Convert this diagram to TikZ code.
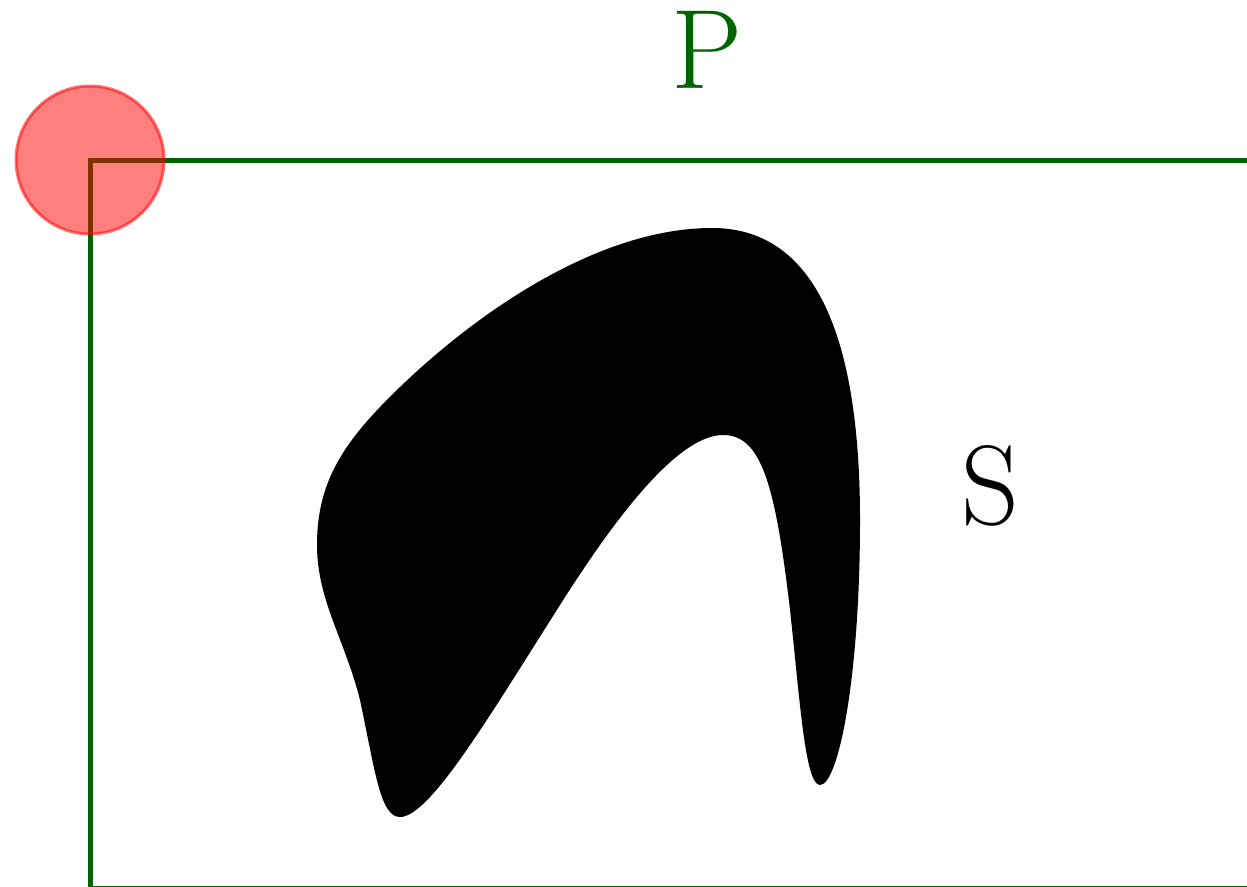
\documentclass[tikz,border=0pt]{standalone}
\usepackage{fontspec}
\definecolor{pgreen}{RGB}{0,100,0}
\tikzset{
  frame/.style={draw=pgreen,line width=5pt},
  marker/.style={draw=red,fill=red,fill opacity=0.5,draw opacity=0.55,line width=3pt},
  blob/.style={fill=black},
  lbl/.style={inner sep=0pt,anchor=base,font=\fontsize{113}{113}\selectfont}
}
\begin{document}
\begin{tikzpicture}[x=1pt,y=-1pt]
\useasboundingbox (0,0) rectangle (1247,886);
\clip (0,0) rectangle (1247,886);
% frame of P
\draw[frame] (1300,160) -- (90,160) -- (90,888.5) -- (1300,888.5);
% shape S
\fill[blob] (400,817)
  .. controls (380,817) and (375,770) .. (360,700)
  .. controls (345,640) and (317,600) .. (317,545)
  .. controls (317,480) and (345,440) .. (400,387)
  .. controls (480,310) and (600,228) .. (712,228)
  .. controls (790,228) and (860,290) .. (860,520)
  .. controls (860,680) and (838,785) .. (820,785)
  .. controls (805,785) and (800,700) .. (790,610)
  .. controls (775,480) and (760,435) .. (723,435)
  .. controls (680,435) and (620,510) .. (560,605)
  .. controls (490,715) and (430,817) .. (400,817) -- cycle;
% corner marker
\draw[marker] (90,160) circle[radius=74];
% labels
\node[lbl,text=pgreen] (P) at (707,88) {P};
\node[lbl] (S) at (990,524) {S};
\end{tikzpicture}
\end{document}
